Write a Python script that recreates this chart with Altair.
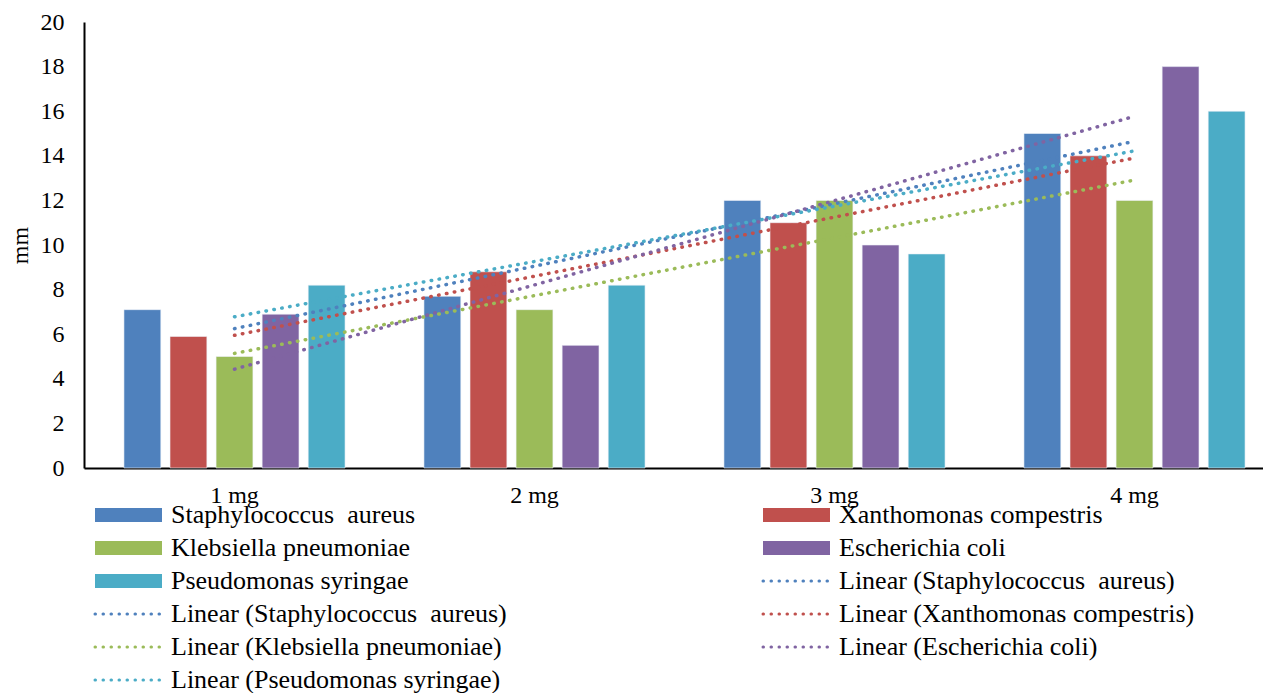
import altair as alt
import pandas as pd

# ---- data ----
doses = [1, 2, 3, 4]
dose_labels = ["1 mg", "2 mg", "3 mg", "4 mg"]
species = [
    "Staphylococcus\u00a0 aureus",
    "Xanthomonas compestris",
    "Klebsiella pneumoniae",
    "Escherichia coli",
    "Pseudomonas syringae",
]
staph = [7.1, 7.7, 12.0, 15.0]
xanth = [5.9, 8.8, 11.0, 14.0]
kleb = [5.0, 7.1, 12.0, 12.0]
ecoli = [6.9, 5.5, 10.0, 18.0]
pseudo = [8.2, 8.2, 9.6, 16.0]
colors = ["#4F81BD", "#C0504D", "#9BBB59", "#8064A2", "#4BACC6"]

y_ticks = [0, 2, 4, 6, 8, 10, 12, 14, 16, 18, 20]

legend_labels = [
    "Staphylococcus\u00a0 aureus", "Xanthomonas compestris",
    "Klebsiella pneumoniae", "Escherichia coli",
    "Pseudomonas syringae", "Linear (Staphylococcus\u00a0 aureus)",
    "Linear (Staphylococcus\u00a0 aureus)", "Linear (Xanthomonas compestris)",
    "Linear (Klebsiella pneumoniae)", "Linear (Escherichia coli)",
    "Linear (Pseudomonas syringae)",
]
legend_series = [
    species[0], species[1], species[2], species[3], species[4],
    species[0], species[0], species[1], species[2], species[3], species[4],
]
legend_kinds = ["bar"] * 5 + ["line"] * 6

# ---- tables ----
series_values = [staph, xanth, kleb, ecoli, pseudo]
rows = []
for sp, vals in zip(species, series_values):
    for d, lab, v in zip(doses, dose_labels, vals):
        rows.append({"series": sp, "dose": d, "dose_label": lab, "value": v})
df = pd.DataFrame(rows)

legend_df = pd.DataFrame({"label": legend_labels, "series": legend_series, "kind": legend_kinds})

FONT = "Liberation Serif"

color_scale = alt.Scale(domain=species, range=colors)
x_scale = alt.Scale(domain=dose_labels, paddingInner=0.263, paddingOuter=0.0965, align=0.69)
y_scale = alt.Scale(domain=[0, 20])

x_axis = alt.Axis(
    title=None, labelAngle=0, ticks=False, tickSize=0, grid=False,
    domainColor="black", domainWidth=2, labelFont=FONT, labelFontSize=24,
    labelColor="black", labelPadding=15,
)
y_axis = alt.Axis(
    values=y_ticks, ticks=False, tickSize=0, grid=False,
    domainColor="black", domainWidth=2, labelFont=FONT, labelFontSize=24,
    labelColor="black", labelPadding=20,
    title="mm", titleFont=FONT, titleFontSize=24, titleFontWeight="normal",
    titleColor="black", titleAngle=270, titleX=-64, titleY=223,
    titleAlign="center", titleBaseline="middle",
)

bars = alt.Chart(df).mark_bar(stroke="#eef2f8", strokeWidth=0.6).encode(
    x=alt.X("dose_label:N", scale=x_scale, axis=x_axis, sort=dose_labels),
    xOffset=alt.XOffset("series:N", scale=alt.Scale(domain=species, paddingInner=0.2, paddingOuter=0)),
    y=alt.Y("value:Q", scale=y_scale, axis=y_axis),
    color=alt.Color("series:N", scale=color_scale, legend=None),
)

trend = (
    alt.Chart(df)
    .transform_regression("dose", "value", groupby=["series"], method="linear")
    .transform_calculate(dose_label="datum.dose + ' mg'")
    .mark_line(strokeDash=[0.5, 7.5], strokeCap="round", strokeWidth=3.5)
    .encode(
        x=alt.X("dose_label:N", scale=x_scale, axis=x_axis, sort=dose_labels, bandPosition=0.5),
        y=alt.Y("value:Q", scale=y_scale, axis=y_axis),
        color=alt.Color("series:N", scale=color_scale, legend=None),
        detail="series:N",
    )
)

main = alt.layer(bars, trend)

# ---- custom legend (two columns) below the plot ----
leg_x = alt.Scale(domain=[0, 1], range=[11, 679])
leg_y = alt.Scale(domain=[0, 5], range=[493, 658])

leg_base = alt.Chart(legend_df).transform_window(
    idx="row_number()"
).transform_calculate(
    row="floor((datum.idx - 1) / 2)", col="(datum.idx - 1) % 2"
)

leg_bar = leg_base.transform_filter("datum.kind == 'bar'").mark_rule(
    strokeWidth=14, strokeCap="butt", x2Offset=67
).encode(
    x=alt.X("col:Q", scale=leg_x, axis=None),
    x2="col:Q",
    y=alt.Y("row:Q", scale=leg_y, axis=None),
    color=alt.Color("series:N", scale=color_scale, legend=None),
)

leg_line = leg_base.transform_filter("datum.kind == 'line'").mark_rule(
    strokeWidth=3, strokeCap="round", strokeDash=[0.5, 7.5], x2Offset=66
).encode(
    x=alt.X("col:Q", scale=leg_x, axis=None),
    x2="col:Q",
    y=alt.Y("row:Q", scale=leg_y, axis=None),
    color=alt.Color("series:N", scale=color_scale, legend=None),
)

leg_text = leg_base.mark_text(
    align="left", baseline="middle", dx=76, font=FONT, fontSize=26, color="black"
).encode(
    x=alt.X("col:Q", scale=leg_x, axis=None),
    y=alt.Y("row:Q", scale=leg_y, axis=None),
    text="label:N",
)

legend = alt.layer(leg_bar, leg_line, leg_text)

chart = (
    alt.layer(main, legend)
    .resolve_scale(x="independent", y="independent")
    .properties(
        width=1179,
        height=446,
        autosize=alt.AutoSizeParams(type="none"),
        padding={"left": 76, "top": 14, "right": 0, "bottom": 225},
    )
    .configure_view(stroke=None)
)

chart.save("out.html", embed_options={"renderer": "svg", "actions": False})
